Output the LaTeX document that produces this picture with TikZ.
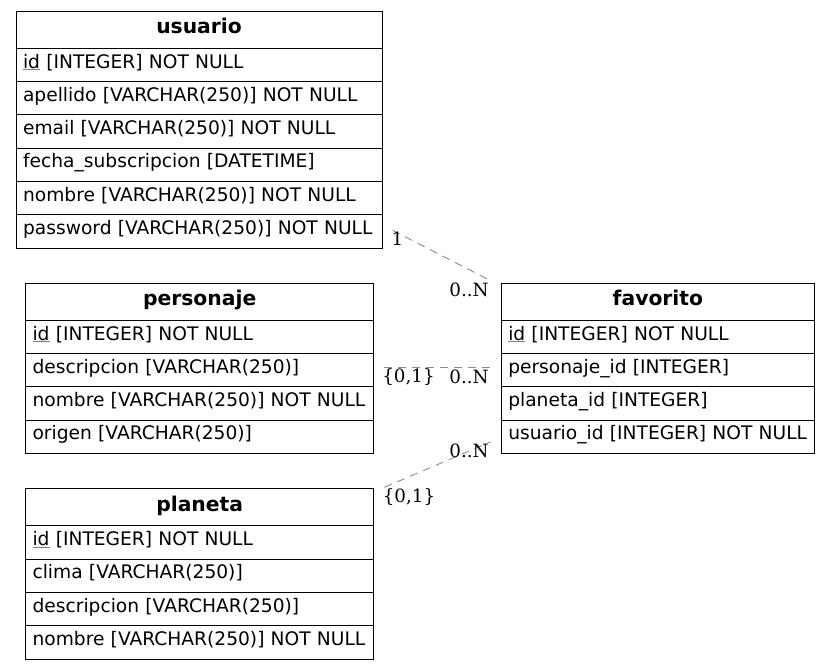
\documentclass[tikz,border=0pt]{standalone}
\usepackage{fontspec}
\setmainfont{DejaVu Sans}
\newfontfamily\lblfont{DejaVu Serif}
\usetikzlibrary{calc}
\newcommand\keyul[1]{{\color{gray}\underline{\color{black}#1}}}
\tikzset{
  cellbase/.style={draw=black, line width=1.1pt, anchor=north west, inner xsep=7pt, inner ysep=0pt,
    align=left, text height=0.88em, text depth=0.26em},
  hdr/.style={cellbase, text width=#1, align=center, minimum height=37pt, text height=1.0em, text depth=0.18em, font=\fontsize{20.3}{24}\selectfont\bfseries},
  row/.style={cellbase, text width=#1, minimum height=33.3pt, font=\fontsize{18.65}{22}\selectfont},
  rel/.style={draw=gray!90, line width=0.9pt, dash pattern=on 8pt off 6pt},
  card/.style={font=\fontsize{18.3}{20}\lblfont, inner sep=0pt}
}
\begin{document}
\begin{tikzpicture}[x=1pt,y=-1pt]
\useasboundingbox (0,0) rectangle (829,669);
% usuario
\node[hdr=352pt] (uh) at (15.5,10.7) {usuario};
\node[row=352pt] (u1) at (15.5,47.7) {\keyul{id} [INTEGER] NOT NULL};
\node[row=352pt] (u2) at (15.5,81) {apellido [VARCHAR(250)] NOT NULL};
\node[row=352pt] (u3) at (15.5,114.3) {email [VARCHAR(250)] NOT NULL};
\node[row=352pt] (u4) at (15.5,147.6) {fecha\_subscripcion [DATETIME]};
\node[row=352pt] (u5) at (15.5,180.9) {nombre [VARCHAR(250)] NOT NULL};
\node[row=352pt] (u6) at (15.5,214.2) {password [VARCHAR(250)] NOT NULL};
% personaje
\node[hdr=334.3pt] (ph) at (25,282.7) {personaje};
\node[row=334.3pt] (p1) at (25,319.7) {\keyul{id} [INTEGER] NOT NULL};
\node[row=334.3pt] (p2) at (25,353) {descripcion [VARCHAR(250)]};
\node[row=334.3pt] (p3) at (25,386.3) {nombre [VARCHAR(250)] NOT NULL};
\node[row=334.3pt] (p4) at (25,419.6) {origen [VARCHAR(250)]};
% planeta
\node[hdr=334.3pt] (lh) at (25,488.3) {planeta};
\node[row=334.3pt] (l1) at (25,525.3) {\keyul{id} [INTEGER] NOT NULL};
\node[row=334.3pt] (l2) at (25,558.6) {clima [VARCHAR(250)]};
\node[row=334.3pt] (l3) at (25,591.9) {descripcion [VARCHAR(250)]};
\node[row=334.3pt] (l4) at (25,625.2) {nombre [VARCHAR(250)] NOT NULL};
% favorito
\node[hdr=299.3pt] (fh) at (500.7,282.7) {favorito};
\node[row=299.3pt] (f1) at (500.7,319.7) {\keyul{id} [INTEGER] NOT NULL};
\node[row=299.3pt] (f2) at (500.7,353) {personaje\_id [INTEGER]};
\node[row=299.3pt] (f3) at (500.7,386.3) {planeta\_id [INTEGER]};
\node[row=299.3pt] (f4) at (500.7,419.6) {usuario\_id [INTEGER] NOT NULL};
% connector ends
\coordinate (a1) at ($(u6.east)+(10,-1)$);
\coordinate (a2) at ($(fh.north west)+(-12,-3)$);
\coordinate (b1) at ($(p2.east)+(10,-3)$);
\coordinate (b2) at ($(f2.west)+(-10,-3)$);
\coordinate (c1) at ($(lh.north east)+(10,-1)$);
\coordinate (c2) at ($(f4.west)+(-10,5)$);
\draw[rel] (a1) -- (a2);
\draw[rel] (b1) -- (b2);
\draw[rel] (c1) -- (c2);
% cardinalities
\node[card] (k1) at (397.5,239) {1};
\node[card] (k2) at (469,290) {0..N};
\node[card] (k3) at (408.5,377) {\{0,1\}};
\node[card] (k4) at (469,376.5) {0..N};
\node[card] (k5) at (469,451) {0..N};
\node[card] (k6) at (409,497) {\{0,1\}};
\end{tikzpicture}
\end{document}
